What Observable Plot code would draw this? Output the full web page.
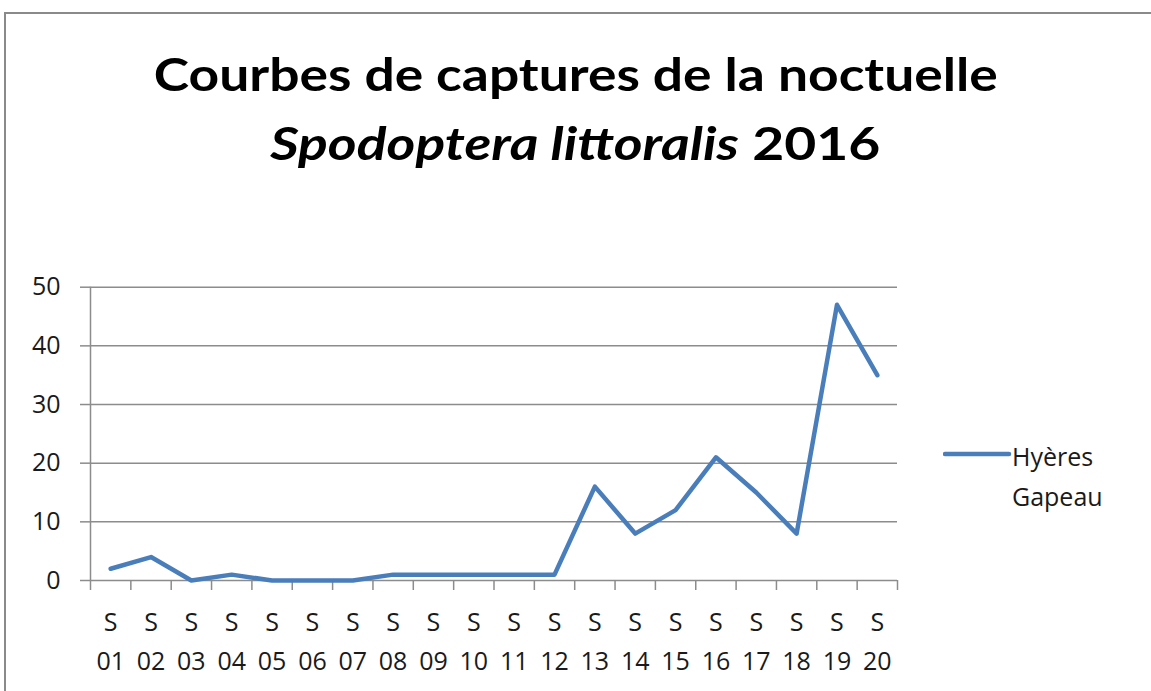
<!DOCTYPE html>
<html>
<head>
<meta charset="utf-8">
<script src="https://cdn.jsdelivr.net/npm/d3@7"></script>
<script src="https://cdn.jsdelivr.net/npm/@observablehq/plot@0.6"></script>
<style>
  html, body { margin: 0; padding: 0; background: #fff; }
  body { width: 1151px; height: 691px; overflow: hidden; position: relative; font-family: "Open Sans", sans-serif; }
  #frame { position: absolute; left: 4px; top: 12px; width: 1160px; height: 700px; border: 2px solid #8a8a8a; box-sizing: border-box; }
  #title { position: absolute; left: 0; top: 0; width: 1151px; height: 200px; text-align: center; font-family: "Lato", sans-serif; font-weight: bold; font-size: 46px; color: #000; }
  #title .l1 { position: absolute; left: 0; width: 1151px; top: 88px; line-height: 1; text-align: center; }
  #title .l2 { position: absolute; left: 0; width: 1151px; top: 157px; line-height: 1; text-align: center; }
  #title span { display: inline-block; transform: translateY(-0.8em) scaleX(var(--sx)); transform-origin: center; }
  #chart { position: absolute; left: 0; top: 200px; }
  #legend { position: absolute; left: 943px; top: 436px; font-size: 25px; color: #1a1a1a; line-height: 40px; }
  #legend svg { position: absolute; left: 0; top: 14px; }
  #legend .txt { position: absolute; left: 69px; top: 0; white-space: nowrap; }
</style>
</head>
<body>
<div id="frame"></div>
<div id="title">
  <div class="l1"><span style="--sx:1.16">Courbes de captures de la noctuelle</span></div>
  <div class="l2"><span style="--sx:1.2"><i>Spodoptera littoralis</i> 2016</span></div>
</div>
<div id="chart"></div>
<div id="legend"></div>
<script>
const weeks = ["01","02","03","04","05","06","07","08","09","10","11","12","13","14","15","16","17","18","19","20"];
const captures = [2, 4, 0, 1, 0, 0, 0, 1, 1, 1, 1, 1, 16, 8, 12, 21, 15, 8, 47, 35];
const yTicks = [0, 10, 20, 30, 40, 50];
const seriesName = ["Hyères", "Gapeau"];
const lineColor = "#4a7ebb";
const gridColor = "#8c8c8c";

const data = weeks.map((w, i) => ({pos: i + 0.5, week: w, value: captures[i]}));
const boundaries = d3.range(0, weeks.length + 1);

const chart = Plot.plot({
  width: 1151,
  height: 491,
  marginLeft: 90,
  marginRight: 254,
  marginTop: 86.7,
  marginBottom: 111,
  style: {fontFamily: "Open Sans", fontSize: "25px", color: "#1a1a1a", background: "transparent"},
  x: {domain: [0, weeks.length]},
  y: {domain: [0, 50]},
  marks: [
    Plot.gridY(yTicks, {stroke: gridColor, strokeOpacity: 1, strokeWidth: 1.5}),
    Plot.ruleX([0], {stroke: gridColor, strokeWidth: 1.5}),
    Plot.axisY(yTicks, {tickSize: 10, tickPadding: 20, stroke: gridColor, strokeWidth: 1.5, label: null, fill: "#1a1a1a"}),
    Plot.axisX(boundaries, {tickSize: 10, stroke: gridColor, strokeWidth: 1.5, tickFormat: () => "", label: null}),
    Plot.axisX(data.map(d => d.pos), {tickSize: 0, tickPadding: 23, lineHeight: 1.56, fill: "#1a1a1a",
      tickFormat: p => "S\n" + weeks[Math.floor(p)], label: null}),
    Plot.line(data, {x: "pos", y: "value", stroke: lineColor, strokeWidth: 4.5, strokeLinejoin: "round", strokeLinecap: "round"})
  ]
});
document.getElementById("chart").appendChild(chart);

const legend = document.getElementById("legend");
legend.innerHTML = `<svg width="70" height="10"><line x1="2" y1="4" x2="66" y2="4" stroke="${lineColor}" stroke-width="4.5" stroke-linecap="round"/></svg><div class="txt">${seriesName.join("<br>")}</div>`;
</script>
</body>
</html>
